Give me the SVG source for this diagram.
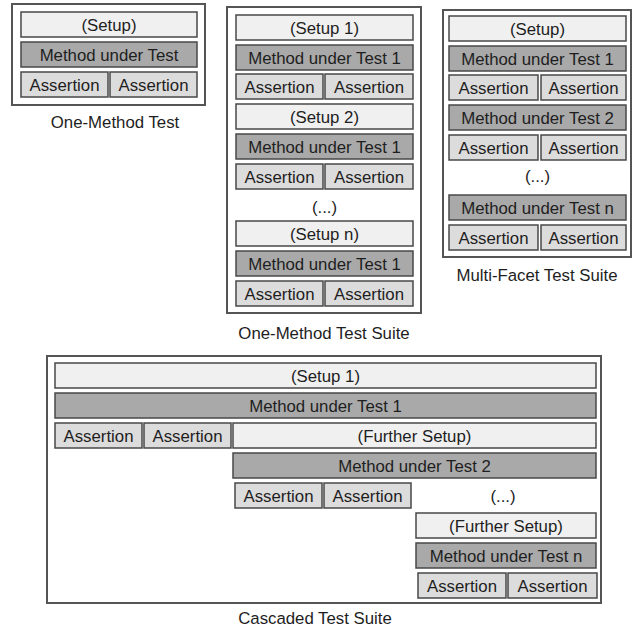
<svg xmlns="http://www.w3.org/2000/svg" width="638" height="628" viewBox="0 0 638 628">
<style>
rect{stroke:#484848;stroke-width:1.5}
rect.bg{stroke:none;fill:#fff}
.frame{fill:#fff;stroke:#555;stroke-width:2}
.setup{fill:#f0f0f0}
.mut{fill:#a9a9a9}
.asrt{fill:#dcdcdc}
text{font-family:"Liberation Sans",Arial,sans-serif;font-size:16.8px;fill:#1e1e1e;text-anchor:middle}
</style>
<rect class="bg" width="638" height="628"/>
<g id="one-method-test">
<rect class="frame" x="12" y="4" width="193" height="101"/>
<rect class="setup" x="21" y="12" width="176" height="25"/><text x="109" y="31">(Setup)</text>
<rect class="mut" x="21" y="42" width="176" height="25"/><text x="109" y="61">Method under Test</text>
<rect class="asrt" x="21" y="72" width="87" height="25"/><text x="64.5" y="91">Assertion</text>
<rect class="asrt" x="110" y="72" width="87" height="25"/><text x="153.5" y="91">Assertion</text>
<text x="115" y="128">One-Method Test</text>
</g>
<g id="one-method-test-suite">
<rect class="frame" x="227" y="7" width="194" height="306"/>
<rect class="setup" x="236" y="15" width="177" height="25"/><text x="324.5" y="34">(Setup 1)</text>
<rect class="mut" x="236" y="45" width="177" height="25"/><text x="324.5" y="64">Method under Test 1</text>
<rect class="asrt" x="236" y="74" width="87" height="25"/><text x="279.5" y="93">Assertion</text>
<rect class="asrt" x="325" y="74" width="88" height="25"/><text x="369" y="93">Assertion</text>
<rect class="setup" x="236" y="104" width="177" height="25"/><text x="324.5" y="123">(Setup 2)</text>
<rect class="mut" x="236" y="134" width="177" height="25"/><text x="324.5" y="153">Method under Test 1</text>
<rect class="asrt" x="236" y="164" width="87" height="25"/><text x="279.5" y="183">Assertion</text>
<rect class="asrt" x="325" y="164" width="88" height="25"/><text x="369" y="183">Assertion</text>
<text x="324.5" y="213">(...)</text>
<rect class="setup" x="236" y="221" width="177" height="25"/><text x="324.5" y="240">(Setup n)</text>
<rect class="mut" x="236" y="251" width="177" height="25"/><text x="324.5" y="270">Method under Test 1</text>
<rect class="asrt" x="236" y="281" width="87" height="25"/><text x="279.5" y="300">Assertion</text>
<rect class="asrt" x="325" y="281" width="88" height="25"/><text x="369" y="300">Assertion</text>
<text x="324" y="339">One-Method Test Suite</text>
</g>
<g id="multi-facet-test-suite">
<rect class="frame" x="443" y="10" width="188" height="247"/>
<rect class="setup" x="449" y="16" width="177" height="25"/><text x="537.5" y="35">(Setup)</text>
<rect class="mut" x="449" y="46" width="177" height="25"/><text x="537.5" y="65">Method under Test 1</text>
<rect class="asrt" x="449" y="75" width="89" height="25"/><text x="493.5" y="94">Assertion</text>
<rect class="asrt" x="541" y="75" width="85" height="25"/><text x="583.5" y="94">Assertion</text>
<rect class="mut" x="449" y="105" width="177" height="25"/><text x="537.5" y="124">Method under Test 2</text>
<rect class="asrt" x="449" y="135" width="89" height="25"/><text x="493.5" y="154">Assertion</text>
<rect class="asrt" x="541" y="135" width="85" height="25"/><text x="583.5" y="154">Assertion</text>
<text x="537.5" y="182">(...)</text>
<rect class="mut" x="449" y="195" width="177" height="25"/><text x="537.5" y="214">Method under Test n</text>
<rect class="asrt" x="449" y="225" width="89" height="25"/><text x="493.5" y="244">Assertion</text>
<rect class="asrt" x="541" y="225" width="85" height="25"/><text x="583.5" y="244">Assertion</text>
<text x="537" y="281">Multi-Facet Test Suite</text>
</g>
<g id="cascaded-test-suite">
<rect class="frame" x="47" y="356" width="554" height="247"/>
<rect class="setup" x="55" y="363" width="541" height="25"/><text x="325.5" y="382">(Setup 1)</text>
<rect class="mut" x="55" y="393" width="541" height="25"/><text x="325.5" y="412">Method under Test 1</text>
<rect class="asrt" x="55" y="423" width="87" height="25"/><text x="98.5" y="442">Assertion</text>
<rect class="asrt" x="144" y="423" width="87" height="25"/><text x="187.5" y="442">Assertion</text>
<rect class="setup" x="233" y="423" width="363" height="25"/><text x="414.5" y="442">(Further Setup)</text>
<rect class="mut" x="233" y="453" width="363" height="25"/><text x="414.5" y="472">Method under Test 2</text>
<rect class="asrt" x="235" y="483" width="87" height="25"/><text x="278.5" y="502">Assertion</text>
<rect class="asrt" x="324" y="483" width="87" height="25"/><text x="367.5" y="502">Assertion</text>
<text x="503" y="502">(...)</text>
<rect class="setup" x="416" y="513" width="180" height="25"/><text x="506" y="532">(Further Setup)</text>
<rect class="mut" x="416" y="543" width="180" height="25"/><text x="506" y="562">Method under Test n</text>
<rect class="asrt" x="418" y="573" width="88" height="25"/><text x="462" y="592">Assertion</text>
<rect class="asrt" x="508" y="573" width="89" height="25"/><text x="552.5" y="592">Assertion</text>
<text x="315" y="624">Cascaded Test Suite</text>
</g>
</svg>
